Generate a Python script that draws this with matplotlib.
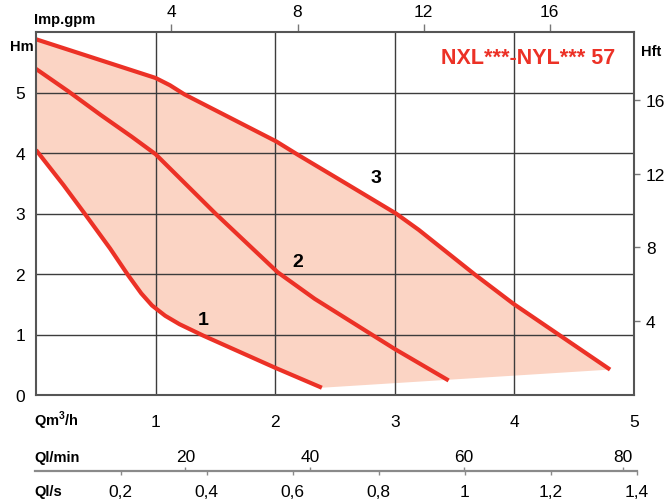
import numpy as np
import matplotlib
matplotlib.use("Agg")
import matplotlib.pyplot as plt

plt.rcParams['font.family'] = ['Liberation Sans', 'DejaVu Sans']
plt.rcParams['mathtext.fontset'] = 'custom'
plt.rcParams['mathtext.rm'] = 'Liberation Sans'
plt.rcParams['mathtext.bf'] = 'Liberation Sans:bold'

# Courbes de pompe (Q en m3/h, H en m)
curve1_q = [0.0, 0.23, 0.41, 0.62, 0.77, 0.88, 0.97, 1.08, 1.20, 1.40, 2.00, 2.39]
curve1_h = [4.05, 3.47, 2.99, 2.42, 1.98, 1.68, 1.48, 1.31, 1.17, 0.98, 0.45, 0.12]

curve2_q = [0.0, 0.27, 0.54, 0.80, 1.00, 1.50, 2.02, 2.33, 3.00, 3.45]
curve2_h = [5.39, 5.02, 4.63, 4.27, 3.98, 3.00, 2.03, 1.59, 0.76, 0.24]

curve3_q = [0.0, 0.50, 1.00, 1.12, 1.24, 2.01, 2.19, 2.58, 3.01, 3.20, 3.67, 3.99, 4.80]
curve3_h = [5.88, 5.56, 5.24, 5.12, 4.97, 4.19, 3.97, 3.51, 3.00, 2.73, 1.99, 1.51, 0.42]

curve_labels = ["1", "2", "3"]
curve_label_q = [1.40, 2.19, 2.84]
curve_label_h = [1.24, 2.21, 3.60]

title = "NXL***-NYL*** 57"

q_ticks = [1, 2, 3, 4, 5]
h_ticks = [0, 1, 2, 3, 4, 5]
hft_ticks = [4, 8, 12, 16]
gpm_ticks = [4, 8, 12, 16]
ls_ticks = [0.2, 0.4, 0.6, 0.8, 1.0, 1.2, 1.4]
ls_labels = ["0,2", "0,4", "0,6", "0,8", "1", "1,2", "1,4"]
lmin_ticks = [20, 40, 60, 80]
# positions (en l/s) ou l'echelle l/min est imprimee sur l'original
lmin_pos_ls = [0.351, 0.640, 0.999, 1.369]

RED = '#ec3126'
FILL = '#fbd4c4'
GRID = '#3c3c3c'
SPINE = '#555555'

W, H = 664, 502


def px(x, y):
    # pixels (depuis le haut gauche) -> coordonnees figure
    return x / W, 1 - y / H


fig = plt.figure(figsize=(W / 100, H / 100), dpi=100)
ax = fig.add_axes([36 / W, 106 / H, 598 / W, 363 / H])

# zone remplie entre courbe 3 et courbe 1
poly_q = np.concatenate([curve3_q, curve1_q[::-1]])
poly_h = np.concatenate([curve3_h, curve1_h[::-1]])
ax.fill(poly_q, poly_h, color=FILL, lw=0, zorder=1)

for q, h in [(curve1_q, curve1_h), (curve2_q, curve2_h), (curve3_q, curve3_h)]:
    ax.plot(q, h, color=RED, lw=3.0, solid_joinstyle='round',
            solid_capstyle='butt', zorder=3)

for lab, q, h in zip(curve_labels, curve_label_q, curve_label_h):
    ax.text(q, h, lab, fontsize=14, fontweight='bold', ha='center',
            va='center', zorder=4)

ax.set_xlim(0, 5)
ax.set_ylim(0, 6)
ax.set_xticks(q_ticks)
ax.set_yticks(h_ticks)
ax.grid(True, color=GRID, lw=1.0, zorder=2)
ax.set_axisbelow(False)
ax.tick_params(axis='x', length=0, pad=14, labelsize=12.5)
ax.tick_params(axis='y', length=0, pad=8, labelsize=12.5)
for s in ax.spines.values():
    s.set_color(SPINE)
    s.set_linewidth(1.5)
    s.set_zorder(5)

# axe de droite en pieds
m_to_ft = 3.2808
ax_r = ax.secondary_yaxis('right', functions=(lambda m: m * m_to_ft,
                                              lambda f: f / m_to_ft))
ax_r.set_yticks(hft_ticks)
ax_r.tick_params(direction='out', length=4.5, width=1, color='#777777',
                 pad=4, labelsize=12.5)
ax_r.spines['right'].set_visible(False)

# axe du haut en gallons imperiaux (echelle telle qu'imprimee)
ax_t = ax.secondary_xaxis('top', functions=(lambda q: (q - 0.078) * 3.794,
                                            lambda g: g / 3.794 + 0.078))
ax_t.set_xticks(gpm_ticks)
ax_t.tick_params(direction='out', length=6, width=1, color='#777777',
                 pad=3, labelsize=12.5)
ax_t.spines['top'].set_visible(False)

# echelle du bas : l/s et l/min
axb = fig.add_axes([34.5 / W, (H - 472.3) / H, 602.2 / W, 0.0001])
axb.set_xlim(0, 1.4)
axb.set_yticks([])
for side in ['left', 'right', 'top']:
    axb.spines[side].set_visible(False)
axb.spines['bottom'].set_color('#8a8a8a')
axb.spines['bottom'].set_linewidth(1.6)
axb.patch.set_visible(False)
axb.set_xticks(ls_ticks, labels=ls_labels)
axb.tick_params(direction='out', length=3, width=1, color='#8a8a8a',
                pad=6, labelsize=12.5)

axb_t = axb.secondary_xaxis('top')
axb_t.set_xticks(lmin_pos_ls, labels=[str(v) for v in lmin_ticks])
axb_t.tick_params(direction='out', length=3, width=1, color='#8a8a8a',
                  pad=2, labelsize=12.5)
axb_t.spines['top'].set_visible(False)

# libelles d'unites
bold = dict(fontsize=10.5, fontweight='bold')
fig.text(*px(33.5, 47), "Hm", ha='right', va='center', **bold)
fig.text(*px(34, 20), "Imp.gpm", ha='left', va='center', **bold)
fig.text(*px(641, 52), "Hft", ha='left', va='center', **bold)
fig.text(*px(34, 421), r"Qm$^{\mathbf{3}}$/h", ha='left', va='center', **bold)
fig.text(*px(34, 458), "Ql/min", ha='left', va='center', **bold)
fig.text(*px(34, 492), "Ql/s", ha='left', va='center', **bold)

fig.text(*px(615, 58), title, ha='right', va='center', fontsize=15.5,
         fontweight='bold', color=RED)

fig.savefig("out.png", dpi=100)
